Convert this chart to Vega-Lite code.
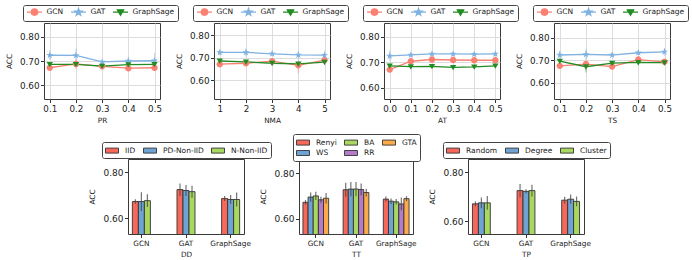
{
  "$schema": "https://vega.github.io/schema/vega-lite/v6.json",
  "autosize": {"type": "pad"},
  "padding": {"left": 4, "top": 4, "right": 2, "bottom": 2},
  "background": "white",
  "config": {
    "font": "DejaVu Sans",
    "view": {"stroke": "#3a3a3a", "strokeWidth": 1},
    "axis": {
      "domain": false,
      "grid": false,
      "labelFont": "DejaVu Sans",
      "labelFontSize": 8.8,
      "labelColor": "#222",
      "tickColor": "#333",
      "tickSize": 3.5,
      "labelPadding": 1.5,
      "titleFont": "DejaVu Sans",
      "titleFontSize": 7.3,
      "titleFontWeight": "normal",
      "titleColor": "#222",
      "gridColor": "#d9d9d9",
      "gridWidth": 0.9
    },
    "axisY": {"titlePadding": 6},
    "axisX": {"titlePadding": 4},
    "legend": {"labelFont": "DejaVu Sans", "labelFontSize": 7.5, "labelColor": "#222", "labelLimit": 200}
  },
  "datasets": {
    "pr": [
      {"model": "GCN", "x": 0.1, "acc": 0.672, "lo": 0.664, "hi": 0.680},
      {"model": "GCN", "x": 0.2, "acc": 0.688, "lo": 0.668, "hi": 0.708},
      {"model": "GCN", "x": 0.3, "acc": 0.678, "lo": 0.670, "hi": 0.686},
      {"model": "GCN", "x": 0.4, "acc": 0.670, "lo": 0.662, "hi": 0.678},
      {"model": "GCN", "x": 0.5, "acc": 0.672, "lo": 0.660, "hi": 0.684},
      {"model": "GAT", "x": 0.1, "acc": 0.724, "lo": 0.704, "hi": 0.744},
      {"model": "GAT", "x": 0.2, "acc": 0.723, "lo": 0.695, "hi": 0.751},
      {"model": "GAT", "x": 0.3, "acc": 0.696, "lo": 0.691, "hi": 0.701},
      {"model": "GAT", "x": 0.4, "acc": 0.700, "lo": 0.682, "hi": 0.718},
      {"model": "GAT", "x": 0.5, "acc": 0.701, "lo": 0.668, "hi": 0.734},
      {"model": "GraphSage", "x": 0.1, "acc": 0.686, "lo": 0.680, "hi": 0.692},
      {"model": "GraphSage", "x": 0.2, "acc": 0.686, "lo": 0.680, "hi": 0.692},
      {"model": "GraphSage", "x": 0.3, "acc": 0.679, "lo": 0.674, "hi": 0.684},
      {"model": "GraphSage", "x": 0.4, "acc": 0.685, "lo": 0.679, "hi": 0.691},
      {"model": "GraphSage", "x": 0.5, "acc": 0.686, "lo": 0.680, "hi": 0.692}
    ],
    "nma": [
      {"model": "GCN", "x": 1, "acc": 0.672, "lo": 0.664, "hi": 0.680},
      {"model": "GCN", "x": 2, "acc": 0.676, "lo": 0.668, "hi": 0.684},
      {"model": "GCN", "x": 3, "acc": 0.685, "lo": 0.677, "hi": 0.693},
      {"model": "GCN", "x": 4, "acc": 0.667, "lo": 0.632, "hi": 0.690},
      {"model": "GCN", "x": 5, "acc": 0.690, "lo": 0.680, "hi": 0.700},
      {"model": "GAT", "x": 1, "acc": 0.724, "lo": 0.712, "hi": 0.736},
      {"model": "GAT", "x": 2, "acc": 0.724, "lo": 0.706, "hi": 0.742},
      {"model": "GAT", "x": 3, "acc": 0.718, "lo": 0.708, "hi": 0.728},
      {"model": "GAT", "x": 4, "acc": 0.713, "lo": 0.695, "hi": 0.731},
      {"model": "GAT", "x": 5, "acc": 0.712, "lo": 0.692, "hi": 0.732},
      {"model": "GraphSage", "x": 1, "acc": 0.686, "lo": 0.680, "hi": 0.692},
      {"model": "GraphSage", "x": 2, "acc": 0.682, "lo": 0.676, "hi": 0.688},
      {"model": "GraphSage", "x": 3, "acc": 0.676, "lo": 0.670, "hi": 0.682},
      {"model": "GraphSage", "x": 4, "acc": 0.673, "lo": 0.666, "hi": 0.680},
      {"model": "GraphSage", "x": 5, "acc": 0.681, "lo": 0.668, "hi": 0.694}
    ],
    "at": [
      {"model": "GCN", "x": 0.0, "acc": 0.671, "lo": 0.661, "hi": 0.681},
      {"model": "GCN", "x": 0.1, "acc": 0.704, "lo": 0.698, "hi": 0.710},
      {"model": "GCN", "x": 0.2, "acc": 0.711, "lo": 0.705, "hi": 0.717},
      {"model": "GCN", "x": 0.3, "acc": 0.709, "lo": 0.703, "hi": 0.715},
      {"model": "GCN", "x": 0.4, "acc": 0.708, "lo": 0.702, "hi": 0.714},
      {"model": "GCN", "x": 0.5, "acc": 0.708, "lo": 0.702, "hi": 0.714},
      {"model": "GAT", "x": 0.0, "acc": 0.725, "lo": 0.705, "hi": 0.745},
      {"model": "GAT", "x": 0.1, "acc": 0.729, "lo": 0.723, "hi": 0.735},
      {"model": "GAT", "x": 0.2, "acc": 0.733, "lo": 0.727, "hi": 0.739},
      {"model": "GAT", "x": 0.3, "acc": 0.733, "lo": 0.727, "hi": 0.739},
      {"model": "GAT", "x": 0.4, "acc": 0.732, "lo": 0.726, "hi": 0.738},
      {"model": "GAT", "x": 0.5, "acc": 0.733, "lo": 0.727, "hi": 0.739},
      {"model": "GraphSage", "x": 0.0, "acc": 0.686, "lo": 0.678, "hi": 0.694},
      {"model": "GraphSage", "x": 0.1, "acc": 0.683, "lo": 0.676, "hi": 0.690},
      {"model": "GraphSage", "x": 0.2, "acc": 0.684, "lo": 0.677, "hi": 0.691},
      {"model": "GraphSage", "x": 0.3, "acc": 0.680, "lo": 0.673, "hi": 0.687},
      {"model": "GraphSage", "x": 0.4, "acc": 0.682, "lo": 0.675, "hi": 0.689},
      {"model": "GraphSage", "x": 0.5, "acc": 0.686, "lo": 0.679, "hi": 0.693}
    ],
    "ts": [
      {"model": "GCN", "x": 0.1, "acc": 0.676, "lo": 0.668, "hi": 0.684},
      {"model": "GCN", "x": 0.2, "acc": 0.684, "lo": 0.672, "hi": 0.696},
      {"model": "GCN", "x": 0.3, "acc": 0.673, "lo": 0.665, "hi": 0.681},
      {"model": "GCN", "x": 0.4, "acc": 0.704, "lo": 0.694, "hi": 0.714},
      {"model": "GCN", "x": 0.5, "acc": 0.694, "lo": 0.686, "hi": 0.702},
      {"model": "GAT", "x": 0.1, "acc": 0.724, "lo": 0.704, "hi": 0.744},
      {"model": "GAT", "x": 0.2, "acc": 0.727, "lo": 0.702, "hi": 0.752},
      {"model": "GAT", "x": 0.3, "acc": 0.724, "lo": 0.714, "hi": 0.734},
      {"model": "GAT", "x": 0.4, "acc": 0.734, "lo": 0.724, "hi": 0.744},
      {"model": "GAT", "x": 0.5, "acc": 0.738, "lo": 0.720, "hi": 0.756},
      {"model": "GraphSage", "x": 0.1, "acc": 0.697, "lo": 0.690, "hi": 0.704},
      {"model": "GraphSage", "x": 0.2, "acc": 0.672, "lo": 0.647, "hi": 0.697},
      {"model": "GraphSage", "x": 0.3, "acc": 0.688, "lo": 0.680, "hi": 0.696},
      {"model": "GraphSage", "x": 0.4, "acc": 0.691, "lo": 0.681, "hi": 0.701},
      {"model": "GraphSage", "x": 0.5, "acc": 0.690, "lo": 0.682, "hi": 0.698}
    ],
    "dd": [
      {"model": "GCN", "setting": "IID", "acc": 0.673, "lo": 0.663, "hi": 0.683},
      {"model": "GCN", "setting": "PD-Non-IID", "acc": 0.673, "lo": 0.632, "hi": 0.714},
      {"model": "GCN", "setting": "N-Non-IID", "acc": 0.677, "lo": 0.649, "hi": 0.705},
      {"model": "GAT", "setting": "IID", "acc": 0.725, "lo": 0.698, "hi": 0.752},
      {"model": "GAT", "setting": "PD-Non-IID", "acc": 0.721, "lo": 0.697, "hi": 0.745},
      {"model": "GAT", "setting": "N-Non-IID", "acc": 0.716, "lo": 0.690, "hi": 0.742},
      {"model": "GraphSage", "setting": "IID", "acc": 0.686, "lo": 0.675, "hi": 0.697},
      {"model": "GraphSage", "setting": "PD-Non-IID", "acc": 0.682, "lo": 0.663, "hi": 0.701},
      {"model": "GraphSage", "setting": "N-Non-IID", "acc": 0.682, "lo": 0.652, "hi": 0.712}
    ],
    "tt": [
      {"model": "GCN", "setting": "Renyi", "acc": 0.672, "lo": 0.662, "hi": 0.682},
      {"model": "GCN", "setting": "WS", "acc": 0.695, "lo": 0.675, "hi": 0.715},
      {"model": "GCN", "setting": "BA", "acc": 0.700, "lo": 0.682, "hi": 0.718},
      {"model": "GCN", "setting": "RR", "acc": 0.683, "lo": 0.670, "hi": 0.696},
      {"model": "GCN", "setting": "GTA", "acc": 0.690, "lo": 0.667, "hi": 0.713},
      {"model": "GAT", "setting": "Renyi", "acc": 0.727, "lo": 0.696, "hi": 0.758},
      {"model": "GAT", "setting": "WS", "acc": 0.730, "lo": 0.699, "hi": 0.761},
      {"model": "GAT", "setting": "BA", "acc": 0.730, "lo": 0.699, "hi": 0.761},
      {"model": "GAT", "setting": "RR", "acc": 0.728, "lo": 0.702, "hi": 0.754},
      {"model": "GAT", "setting": "GTA", "acc": 0.715, "lo": 0.698, "hi": 0.732},
      {"model": "GraphSage", "setting": "Renyi", "acc": 0.686, "lo": 0.675, "hi": 0.697},
      {"model": "GraphSage", "setting": "WS", "acc": 0.677, "lo": 0.665, "hi": 0.689},
      {"model": "GraphSage", "setting": "BA", "acc": 0.674, "lo": 0.662, "hi": 0.686},
      {"model": "GraphSage", "setting": "RR", "acc": 0.665, "lo": 0.637, "hi": 0.693},
      {"model": "GraphSage", "setting": "GTA", "acc": 0.688, "lo": 0.677, "hi": 0.699}
    ],
    "tp": [
      {"model": "GCN", "setting": "Random", "acc": 0.671, "lo": 0.661, "hi": 0.681},
      {"model": "GCN", "setting": "Degree", "acc": 0.675, "lo": 0.653, "hi": 0.697},
      {"model": "GCN", "setting": "Cluster", "acc": 0.675, "lo": 0.647, "hi": 0.703},
      {"model": "GAT", "setting": "Random", "acc": 0.725, "lo": 0.698, "hi": 0.752},
      {"model": "GAT", "setting": "Degree", "acc": 0.722, "lo": 0.713, "hi": 0.731},
      {"model": "GAT", "setting": "Cluster", "acc": 0.725, "lo": 0.701, "hi": 0.749},
      {"model": "GraphSage", "setting": "Random", "acc": 0.686, "lo": 0.672, "hi": 0.700},
      {"model": "GraphSage", "setting": "Degree", "acc": 0.690, "lo": 0.671, "hi": 0.709},
      {"model": "GraphSage", "setting": "Cluster", "acc": 0.681, "lo": 0.661, "hi": 0.701}
    ]
  },
  "spacing": 8,
  "resolve": {"scale": {"color": "independent", "x": "independent", "y": "independent"}, "legend": {"color": "independent"}},
  "vconcat": [
    {
      "spacing": 54,
      "bounds": "flush",
      "resolve": {"scale": {"color": "independent", "x": "independent", "y": "independent"}, "legend": {"color": "independent"}},
      "hconcat": [
        {
          "width": 116, "height": 76,
          "data": {"name": "pr"},
          "encoding": {
            "x": {"field": "x", "type": "quantitative", "scale": {"domain": [0.078, 0.521], "nice": false, "zero": false}, "axis": {"values": [0.1, 0.2, 0.3, 0.4, 0.5], "format": ".1f", "title": "PR", "grid": true, "labelFontSize": 8.7}},
            "y": {"field": "acc", "type": "quantitative", "scale": {"domain": [0.542, 0.858], "nice": false, "zero": false}, "axis": {"values": [0.6, 0.7, 0.8], "format": ".2f", "title": "ACC", "grid": true}},
            "color": {"field": "model", "type": "nominal", "scale": {"domain": ["GCN", "GAT", "GraphSage"], "range": ["#fa8072", "#7fb2e0", "#228b22"]},
              "legend": {"orient": "none", "legendX": -21, "legendY": -18, "direction": "horizontal", "columns": 3, "title": null, "symbolSize": 36, "symbolOffset": 4.5, "labelOffset": 8, "columnPadding": 4, "padding": 3, "strokeColor": "#444", "fillColor": "white", "cornerRadius": 2,
                "encode": {"symbols": {"update": {
                  "shape": {"signal": "datum.value === 'GCN' ? 'M-2.5,0H2.5M1.07,0A1.07,1.07 0 1 1 -1.07,0A1.07,1.07 0 1 1 1.07,0Z' : datum.value === 'GAT' ? 'M-2.5,0H2.5M0,-1.25L0.294,-0.405L1.189,-0.386L0.476,0.155L0.735,1.011L0,0.5L-0.735,1.011L-0.476,0.155L-1.189,-0.386L-0.294,-0.405Z' : 'M-2.5,0H2.5M-1.05,-0.8L1.05,-0.8L0,1.0Z'"},
                  "stroke": {"signal": "datum.value === 'GCN' ? '#fa8072' : datum.value === 'GAT' ? '#7fb2e0' : '#228b22'"},
                  "fill": {"signal": "datum.value === 'GCN' ? '#fa8072' : datum.value === 'GAT' ? '#7fb2e0' : '#228b22'"},
                  "strokeWidth": {"value": 1.3},
                  "opacity": {"value": 1},
                  "size": {"value": 36}
                }}}
              }}
          },
          "layer": [
            {"mark": {"type": "rule", "opacity": 0.45, "strokeWidth": 1.2}, "encoding": {"y": {"field": "lo", "type": "quantitative"}, "y2": {"field": "hi"}}},
            {"mark": {"type": "line", "strokeWidth": 1.3}},
            {"transform": [{"filter": "datum.model === 'GCN'"}], "mark": {"type": "point", "filled": true, "size": 36, "opacity": 1, "shape": "M1.07,0A1.07,1.07 0 1 1 -1.07,0A1.07,1.07 0 1 1 1.07,0Z"}},
            {"transform": [{"filter": "datum.model === 'GAT'"}], "mark": {"type": "point", "filled": true, "size": 36, "opacity": 1, "shape": "M0,-1.25L0.294,-0.405L1.189,-0.386L0.476,0.155L0.735,1.011L0,0.5L-0.735,1.011L-0.476,0.155L-1.189,-0.386L-0.294,-0.405Z"}},
            {"transform": [{"filter": "datum.model === 'GraphSage'"}], "mark": {"type": "point", "filled": true, "size": 36, "opacity": 1, "shape": "M-1.05,-0.8L1.05,-0.8L0,1.0Z"}}
          ]
        },
        {
          "width": 116, "height": 76,
          "data": {"name": "nma"},
          "encoding": {
            "x": {"field": "x", "type": "quantitative", "scale": {"domain": [0.78, 5.21], "nice": false, "zero": false}, "axis": {"values": [1, 2, 3, 4, 5], "format": "d", "title": "NMA", "grid": true, "labelFontSize": 8.7}},
            "y": {"field": "acc", "type": "quantitative", "scale": {"domain": [0.517, 0.855], "nice": false, "zero": false}, "axis": {"values": [0.6, 0.7, 0.8], "format": ".2f", "title": "ACC", "grid": true}},
            "color": {"field": "model", "type": "nominal", "scale": {"domain": ["GCN", "GAT", "GraphSage"], "range": ["#fa8072", "#7fb2e0", "#228b22"]},
              "legend": {"orient": "none", "legendX": -21, "legendY": -18, "direction": "horizontal", "columns": 3, "title": null, "symbolSize": 36, "symbolOffset": 4.5, "labelOffset": 8, "columnPadding": 4, "padding": 3, "strokeColor": "#444", "fillColor": "white", "cornerRadius": 2,
                "encode": {"symbols": {"update": {
                  "shape": {"signal": "datum.value === 'GCN' ? 'M-2.5,0H2.5M1.07,0A1.07,1.07 0 1 1 -1.07,0A1.07,1.07 0 1 1 1.07,0Z' : datum.value === 'GAT' ? 'M-2.5,0H2.5M0,-1.25L0.294,-0.405L1.189,-0.386L0.476,0.155L0.735,1.011L0,0.5L-0.735,1.011L-0.476,0.155L-1.189,-0.386L-0.294,-0.405Z' : 'M-2.5,0H2.5M-1.05,-0.8L1.05,-0.8L0,1.0Z'"},
                  "stroke": {"signal": "datum.value === 'GCN' ? '#fa8072' : datum.value === 'GAT' ? '#7fb2e0' : '#228b22'"},
                  "fill": {"signal": "datum.value === 'GCN' ? '#fa8072' : datum.value === 'GAT' ? '#7fb2e0' : '#228b22'"},
                  "strokeWidth": {"value": 1.3},
                  "opacity": {"value": 1},
                  "size": {"value": 36}
                }}}
              }}
          },
          "layer": [
            {"mark": {"type": "rule", "opacity": 0.45, "strokeWidth": 1.2}, "encoding": {"y": {"field": "lo", "type": "quantitative"}, "y2": {"field": "hi"}}},
            {"mark": {"type": "line", "strokeWidth": 1.3}},
            {"transform": [{"filter": "datum.model === 'GCN'"}], "mark": {"type": "point", "filled": true, "size": 36, "opacity": 1, "shape": "M1.07,0A1.07,1.07 0 1 1 -1.07,0A1.07,1.07 0 1 1 1.07,0Z"}},
            {"transform": [{"filter": "datum.model === 'GAT'"}], "mark": {"type": "point", "filled": true, "size": 36, "opacity": 1, "shape": "M0,-1.25L0.294,-0.405L1.189,-0.386L0.476,0.155L0.735,1.011L0,0.5L-0.735,1.011L-0.476,0.155L-1.189,-0.386L-0.294,-0.405Z"}},
            {"transform": [{"filter": "datum.model === 'GraphSage'"}], "mark": {"type": "point", "filled": true, "size": 36, "opacity": 1, "shape": "M-1.05,-0.8L1.05,-0.8L0,1.0Z"}}
          ]
        },
        {
          "width": 116, "height": 76,
          "data": {"name": "at"},
          "encoding": {
            "x": {"field": "x", "type": "quantitative", "scale": {"domain": [-0.027, 0.522], "nice": false, "zero": false}, "axis": {"values": [0, 0.1, 0.2, 0.3, 0.4, 0.5], "format": ".1f", "title": "AT", "grid": true, "labelFontSize": 8.7}},
            "y": {"field": "acc", "type": "quantitative", "scale": {"domain": [0.555, 0.855], "nice": false, "zero": false}, "axis": {"values": [0.6, 0.7, 0.8], "format": ".2f", "title": "ACC", "grid": true}},
            "color": {"field": "model", "type": "nominal", "scale": {"domain": ["GCN", "GAT", "GraphSage"], "range": ["#fa8072", "#7fb2e0", "#228b22"]},
              "legend": {"orient": "none", "legendX": -21, "legendY": -18, "direction": "horizontal", "columns": 3, "title": null, "symbolSize": 36, "symbolOffset": 4.5, "labelOffset": 8, "columnPadding": 4, "padding": 3, "strokeColor": "#444", "fillColor": "white", "cornerRadius": 2,
                "encode": {"symbols": {"update": {
                  "shape": {"signal": "datum.value === 'GCN' ? 'M-2.5,0H2.5M1.07,0A1.07,1.07 0 1 1 -1.07,0A1.07,1.07 0 1 1 1.07,0Z' : datum.value === 'GAT' ? 'M-2.5,0H2.5M0,-1.25L0.294,-0.405L1.189,-0.386L0.476,0.155L0.735,1.011L0,0.5L-0.735,1.011L-0.476,0.155L-1.189,-0.386L-0.294,-0.405Z' : 'M-2.5,0H2.5M-1.05,-0.8L1.05,-0.8L0,1.0Z'"},
                  "stroke": {"signal": "datum.value === 'GCN' ? '#fa8072' : datum.value === 'GAT' ? '#7fb2e0' : '#228b22'"},
                  "fill": {"signal": "datum.value === 'GCN' ? '#fa8072' : datum.value === 'GAT' ? '#7fb2e0' : '#228b22'"},
                  "strokeWidth": {"value": 1.3},
                  "opacity": {"value": 1},
                  "size": {"value": 36}
                }}}
              }}
          },
          "layer": [
            {"mark": {"type": "rule", "opacity": 0.45, "strokeWidth": 1.2}, "encoding": {"y": {"field": "lo", "type": "quantitative"}, "y2": {"field": "hi"}}},
            {"mark": {"type": "line", "strokeWidth": 1.3}},
            {"transform": [{"filter": "datum.model === 'GCN'"}], "mark": {"type": "point", "filled": true, "size": 36, "opacity": 1, "shape": "M1.07,0A1.07,1.07 0 1 1 -1.07,0A1.07,1.07 0 1 1 1.07,0Z"}},
            {"transform": [{"filter": "datum.model === 'GAT'"}], "mark": {"type": "point", "filled": true, "size": 36, "opacity": 1, "shape": "M0,-1.25L0.294,-0.405L1.189,-0.386L0.476,0.155L0.735,1.011L0,0.5L-0.735,1.011L-0.476,0.155L-1.189,-0.386L-0.294,-0.405Z"}},
            {"transform": [{"filter": "datum.model === 'GraphSage'"}], "mark": {"type": "point", "filled": true, "size": 36, "opacity": 1, "shape": "M-1.05,-0.8L1.05,-0.8L0,1.0Z"}}
          ]
        },
        {
          "width": 116, "height": 76,
          "data": {"name": "ts"},
          "encoding": {
            "x": {"field": "x", "type": "quantitative", "scale": {"domain": [0.078, 0.521], "nice": false, "zero": false}, "axis": {"values": [0.1, 0.2, 0.3, 0.4, 0.5], "format": ".1f", "title": "TS", "grid": true, "labelFontSize": 8.7}},
            "y": {"field": "acc", "type": "quantitative", "scale": {"domain": [0.529, 0.866], "nice": false, "zero": false}, "axis": {"values": [0.6, 0.7, 0.8], "format": ".2f", "title": "ACC", "grid": true}},
            "color": {"field": "model", "type": "nominal", "scale": {"domain": ["GCN", "GAT", "GraphSage"], "range": ["#fa8072", "#7fb2e0", "#228b22"]},
              "legend": {"orient": "none", "legendX": -21, "legendY": -18, "direction": "horizontal", "columns": 3, "title": null, "symbolSize": 36, "symbolOffset": 4.5, "labelOffset": 8, "columnPadding": 4, "padding": 3, "strokeColor": "#444", "fillColor": "white", "cornerRadius": 2,
                "encode": {"symbols": {"update": {
                  "shape": {"signal": "datum.value === 'GCN' ? 'M-2.5,0H2.5M1.07,0A1.07,1.07 0 1 1 -1.07,0A1.07,1.07 0 1 1 1.07,0Z' : datum.value === 'GAT' ? 'M-2.5,0H2.5M0,-1.25L0.294,-0.405L1.189,-0.386L0.476,0.155L0.735,1.011L0,0.5L-0.735,1.011L-0.476,0.155L-1.189,-0.386L-0.294,-0.405Z' : 'M-2.5,0H2.5M-1.05,-0.8L1.05,-0.8L0,1.0Z'"},
                  "stroke": {"signal": "datum.value === 'GCN' ? '#fa8072' : datum.value === 'GAT' ? '#7fb2e0' : '#228b22'"},
                  "fill": {"signal": "datum.value === 'GCN' ? '#fa8072' : datum.value === 'GAT' ? '#7fb2e0' : '#228b22'"},
                  "strokeWidth": {"value": 1.3},
                  "opacity": {"value": 1},
                  "size": {"value": 36}
                }}}
              }}
          },
          "layer": [
            {"mark": {"type": "rule", "opacity": 0.45, "strokeWidth": 1.2}, "encoding": {"y": {"field": "lo", "type": "quantitative"}, "y2": {"field": "hi"}}},
            {"mark": {"type": "line", "strokeWidth": 1.3}},
            {"transform": [{"filter": "datum.model === 'GCN'"}], "mark": {"type": "point", "filled": true, "size": 36, "opacity": 1, "shape": "M1.07,0A1.07,1.07 0 1 1 -1.07,0A1.07,1.07 0 1 1 1.07,0Z"}},
            {"transform": [{"filter": "datum.model === 'GAT'"}], "mark": {"type": "point", "filled": true, "size": 36, "opacity": 1, "shape": "M0,-1.25L0.294,-0.405L1.189,-0.386L0.476,0.155L0.735,1.011L0,0.5L-0.735,1.011L-0.476,0.155L-1.189,-0.386L-0.294,-0.405Z"}},
            {"transform": [{"filter": "datum.model === 'GraphSage'"}], "mark": {"type": "point", "filled": true, "size": 36, "opacity": 1, "shape": "M-1.05,-0.8L1.05,-0.8L0,1.0Z"}}
          ]
        }
      ]
    },
    {
      "spacing": 55,
      "bounds": "flush",
      "resolve": {"scale": {"color": "independent", "x": "independent", "y": "independent", "xOffset": "independent"}, "legend": {"color": "independent"}},
      "hconcat": [
        {
          "width": 29, "height": 75,
          "view": {"stroke": null},
          "data": {"values": [{"a": 1}]},
          "mark": {"type": "point", "opacity": 0},
          "encoding": {}
        },
        {
          "width": 116, "height": 75,
          "data": {"name": "dd"},
          "encoding": {
            "x": {"field": "model", "type": "nominal", "sort": ["GCN", "GAT", "GraphSage"], "scale": {"paddingInner": 0.596, "paddingOuter": 0.098}, "axis": {"title": "DD", "labelAngle": 0, "labelFontSize": 7.3}},
            "xOffset": {"field": "setting", "type": "nominal", "sort": ["IID", "PD-Non-IID", "N-Non-IID"], "scale": {"paddingInner": 0, "paddingOuter": 0}}
          },
          "layer": [
            {"mark": {"type": "bar", "stroke": "#333", "strokeWidth": 0.9, "clip": true},
             "encoding": {
               "y": {"field": "acc", "type": "quantitative", "scale": {"domain": [0.532, 0.858], "nice": false, "zero": false}, "axis": {"values": [0.6, 0.7, 0.8], "format": ".2f", "title": "ACC", "labelFontSize": 9}},
               "color": {"field": "setting", "type": "nominal", "scale": {"domain": ["IID", "PD-Non-IID", "N-Non-IID"], "range": ["#f8685a", "#6fa3d4", "#a9d860"]},
                 "legend": {"orient": "none", "legendX": -26, "legendY": -17, "direction": "horizontal", "columns": 3, "title": null, "symbolType": "M-1.3,-0.5H1.3V0.5H-1.3Z", "symbolSize": 100, "symbolStrokeColor": "#333", "symbolStrokeWidth": 0.9, "symbolOffset": 1.5, "labelOffset": 7.5, "columnPadding": 5, "padding": 3, "strokeColor": "#444", "fillColor": "white", "cornerRadius": 2}}
             }},
            {"mark": {"type": "rule", "color": "#444", "opacity": 0.75, "strokeWidth": 1.2},
             "encoding": {"y": {"field": "lo", "type": "quantitative"}, "y2": {"field": "hi"}}}
          ]
        },
        {
          "width": 114, "height": 75,
          "data": {"name": "tt"},
          "encoding": {
            "x": {"field": "model", "type": "nominal", "sort": ["GCN", "GAT", "GraphSage"], "scale": {"paddingInner": 0.36, "paddingOuter": 0.098}, "axis": {"title": "TT", "labelAngle": 0, "labelFontSize": 7.3}},
            "xOffset": {"field": "setting", "type": "nominal", "sort": ["Renyi", "WS", "BA", "RR", "GTA"], "scale": {"paddingInner": 0, "paddingOuter": 0}}
          },
          "layer": [
            {"mark": {"type": "bar", "stroke": "#333", "strokeWidth": 0.9, "clip": true},
             "encoding": {
               "y": {"field": "acc", "type": "quantitative", "scale": {"domain": [0.533, 0.862], "nice": false, "zero": false}, "axis": {"values": [0.6, 0.7, 0.8], "format": ".2f", "title": "ACC", "labelFontSize": 9}},
               "color": {"field": "setting", "type": "nominal", "scale": {"domain": ["Renyi", "BA", "GTA", "WS", "RR"], "range": ["#f8685a", "#a9d860", "#fbaa4c", "#6fa3d4", "#b47cc8"]},
                 "legend": {"orient": "none", "legendX": -6, "legendY": -25, "direction": "horizontal", "columns": 3, "title": null, "symbolType": "M-1.3,-0.5H1.3V0.5H-1.3Z", "symbolSize": 100, "symbolStrokeColor": "#333", "symbolStrokeWidth": 0.9, "symbolOffset": 1.5, "labelOffset": 7.5, "columnPadding": 5, "rowPadding": 0.5, "padding": 3, "strokeColor": "#444", "fillColor": "white", "cornerRadius": 2}}
             }},
            {"mark": {"type": "rule", "color": "#444", "opacity": 0.75, "strokeWidth": 1.2},
             "encoding": {"y": {"field": "lo", "type": "quantitative"}, "y2": {"field": "hi"}}}
          ]
        },
        {
          "width": 116, "height": 75,
          "data": {"name": "tp"},
          "encoding": {
            "x": {"field": "model", "type": "nominal", "sort": ["GCN", "GAT", "GraphSage"], "scale": {"paddingInner": 0.6, "paddingOuter": 0.1}, "axis": {"title": "TP", "labelAngle": 0, "labelFontSize": 7.3}},
            "xOffset": {"field": "setting", "type": "nominal", "sort": ["Random", "Degree", "Cluster"], "scale": {"paddingInner": 0, "paddingOuter": 0}}
          },
          "layer": [
            {"mark": {"type": "bar", "stroke": "#333", "strokeWidth": 0.9, "clip": true},
             "encoding": {
               "y": {"field": "acc", "type": "quantitative", "scale": {"domain": [0.548, 0.854], "nice": false, "zero": false}, "axis": {"values": [0.6, 0.7, 0.8], "format": ".2f", "title": "ACC", "labelFontSize": 9}},
               "color": {"field": "setting", "type": "nominal", "scale": {"domain": ["Random", "Degree", "Cluster"], "range": ["#f8685a", "#6fa3d4", "#a9d860"]},
                 "legend": {"orient": "none", "legendX": -25, "legendY": -17, "direction": "horizontal", "columns": 3, "title": null, "symbolType": "M-1.3,-0.5H1.3V0.5H-1.3Z", "symbolSize": 100, "symbolStrokeColor": "#333", "symbolStrokeWidth": 0.9, "symbolOffset": 1.5, "labelOffset": 7.5, "columnPadding": 5, "padding": 3, "strokeColor": "#444", "fillColor": "white", "cornerRadius": 2}}
             }},
            {"mark": {"type": "rule", "color": "#444", "opacity": 0.75, "strokeWidth": 1.2},
             "encoding": {"y": {"field": "lo", "type": "quantitative"}, "y2": {"field": "hi"}}}
          ]
        }
      ]
    }
  ]
}
